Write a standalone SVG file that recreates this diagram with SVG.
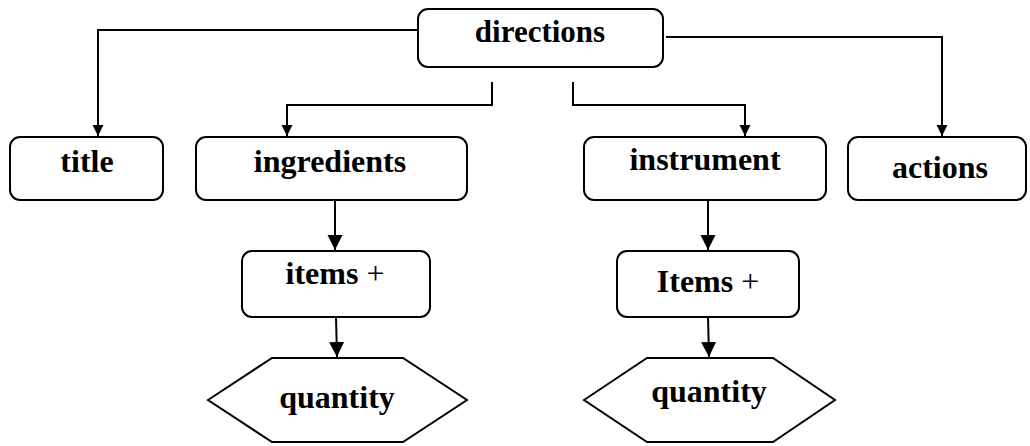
<svg xmlns="http://www.w3.org/2000/svg" width="1030" height="446" viewBox="0 0 1030 446">
<style>
.box{fill:#fff;stroke:#000;stroke-width:2}
.lbl{font-family:"Liberation Serif","Times New Roman",serif;font-weight:bold;font-size:32px;fill:#000;text-anchor:middle}
.plus{font-weight:normal}
.con{fill:none;stroke:#000;stroke-width:2}
</style>
<defs>
<marker id="as" markerUnits="userSpaceOnUse" markerWidth="12" markerHeight="12" refX="11" refY="6" orient="auto">
<path d="M0,0.5 L11,6 L0,11.5 Z" fill="#000"/>
</marker>
<marker id="al" markerUnits="userSpaceOnUse" markerWidth="16" markerHeight="16" refX="15" refY="8" orient="auto">
<path d="M0,0.5 L15,8 L0,15.5 Z" fill="#000"/>
</marker>
</defs>
<rect width="1030" height="446" fill="#fff"/>
<g id="connectors">
<path class="con" d="M418,30 H98 V136" marker-end="url(#as)"/>
<path class="con" d="M492,82 V105 H287 V136" marker-end="url(#as)"/>
<path class="con" d="M573,82 V105 H745 V136" marker-end="url(#as)"/>
<path class="con" d="M666,37 H942 V136" marker-end="url(#as)"/>
<path class="con" d="M335,200 V250" marker-end="url(#al)"/>
<path class="con" d="M336,317 L337,357" marker-end="url(#al)"/>
<path class="con" d="M708,200 V250" marker-end="url(#al)"/>
<path class="con" d="M708,317 L709,357" marker-end="url(#al)"/>
</g>
<g id="directions">
<rect class="box" x="418" y="9" width="245" height="58" rx="10"/>
<text class="lbl" x="540" y="42" style="font-size:31px">directions</text>
</g>
<g id="title">
<rect class="box" x="10" y="137" width="153" height="63" rx="10"/>
<text class="lbl" x="87" y="172">title</text>
</g>
<g id="ingredients">
<rect class="box" x="196" y="137" width="271" height="63" rx="10"/>
<text class="lbl" x="330" y="172">ingredients</text>
</g>
<g id="instrument">
<rect class="box" x="584" y="137" width="242" height="63" rx="10"/>
<text class="lbl" x="705" y="170">instrument</text>
</g>
<g id="actions">
<rect class="box" x="848" y="137" width="178" height="63" rx="10"/>
<text class="lbl" x="940" y="178">actions</text>
</g>
<g id="items-left">
<rect class="box" x="242" y="251" width="188" height="66" rx="10"/>
<text class="lbl" x="335" y="284">items <tspan class="plus">+</tspan></text>
</g>
<g id="items-right">
<rect class="box" x="617" y="251" width="182" height="66" rx="10"/>
<text class="lbl" x="708" y="292">Items <tspan class="plus">+</tspan></text>
</g>
<g id="quantity-left">
<polygon class="box" points="208,400 272,358 403,358 467,400 403,442 272,442"/>
<text class="lbl" x="337" y="408">quantity</text>
</g>
<g id="quantity-right">
<polygon class="box" points="584,400 647,358 773,358 835,400 773,442 647,442"/>
<text class="lbl" x="709" y="402">quantity</text>
</g>
</svg>
